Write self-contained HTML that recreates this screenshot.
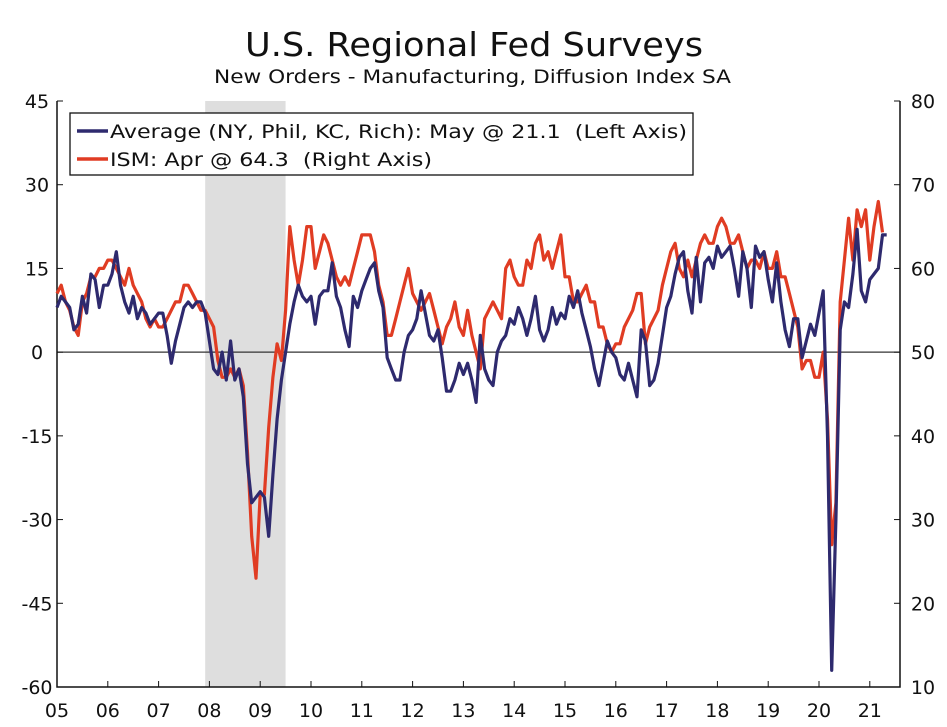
<!DOCTYPE html>
<html><head><meta charset="utf-8"><style>
body{margin:0;background:#fff;}
svg{display:block;font-family:"DejaVu Sans","Liberation Sans",sans-serif;}
</style></head><body>
<svg id="chart" width="947" height="727">
<text x="245" y="56" textLength="458" lengthAdjust="spacingAndGlyphs" font-size="33" fill="#111">U.S. Regional Fed Surveys</text>
<text x="214" y="83" textLength="517" lengthAdjust="spacingAndGlyphs" font-size="19" fill="#111">New Orders - Manufacturing, Diffusion Index SA</text>
<g id="g"></g>
</svg>
<script>
const years=["05","06","07","08","09","10","11","12","13","14","15","16","17","18","19","20","21"];
const leftTicks=[45,30,15,0,-15,-30,-45,-60];
const rightTicks=[80,70,60,50,40,30,20,10];
const recession=[2007.917,2009.5];
const avgSeries=[8,10,9,8,4,5,10,7,14,13,8,12,
12,14,18,12,9,7,10,6,8,7,5,6,
7,7,3,-2,2,5,8,9,8,9,9,7,
2,-3,-4,0,-5,2,-5,-3,-8,-20,-27,-26,
-25,-26,-33,-22,-12,-5,0,5,9,12,10,9,
10,5,10,11,11,16,10,8,4,1,10,8,
11,13,15,16,11,8,-1,-3,-5,-5,0,3,
4,6,11,7,3,2,4,-1,-7,-7,-5,-2,
-4,-2,-5,-9,3,-3,-5,-6,0,2,3,6,
5,8,6,3,6,10,4,2,4,8,5,7,
6,10,8,11,7,4,1,-3,-6,-2,2,0,
-1,-4,-5,-2,-5,-8,4,2,-6,-5,-2,3,
8,10,14,17,18,11,7,17,9,16,17,15,
19,17,18,19,15,10,18,15,8,19,17,18,
13,9,16,9,4,1,6,6,-1,2,5,3,
7,11,-15,-57,-30,4,9,8,14,22,11,9,
13,14,15,21,21];
const ismSeries=[57,58,56,55,53,52,56,57,59,59,60,60,
61,61,60,59,58,60,58,57,56,54,53,54,
53,53,54,55,56,56,58,58,57,56,55,55,
54,53,49,47,47,48,47,48,46,38,28,23,
33,33,41,47,51,49,55,65,61,58,61,65,
65,60,62,64,63,61,59,58,59,58,60,62,
64,64,64,62,58,56,52,52,54,56,58,60,
57,56,55,56,57,55,53,51,53,54,56,53,
52,55,52,50,48,54,55,56,55,54,60,61,
59,58,58,61,60,63,64,61,62,60,62,64,
59,59,56,56,57,58,56,56,53,53,51,50,
51,51,53,54,55,57,57,51,53,54,55,58,
60,62,63,60,59,61,59,61,63,64,63,63,
65,66,65,63,63,64,62,60,61,61,60,62,
60,60,62,59,59,57,55,53,48,49,49,47,
47,50,42,27,32,56,61,66,61,67,65,67,
61,65,68,64.3];
const X0=57,X1=900,Y0=101,Y1=687;
const xs=t=>X0+(t-2005)*50.8;
const yL=v=>Y0+(45-v)*(Y1-Y0)/105;
const yR=v=>Y0+(80-v)*(Y1-Y0)/70;
const NS="http://www.w3.org/2000/svg";
const g=document.getElementById('g');
function mk(tag,attrs,txt){const e=document.createElementNS(NS,tag);for(const k in attrs)e.setAttribute(k,attrs[k]);if(txt!==undefined)e.textContent=txt;g.appendChild(e);return e;}
let r=mk('rect',{x:xs(recession[0]),y:Y0,width:xs(recession[1])-xs(recession[0]),height:Y1-Y0,fill:"#dedede"});


let z=mk('line',{x1:X0,x2:X1,y1:yL(0),y2:yL(0),stroke:"#333","stroke-width":1.3});


let ax=mk('path',{d:`M${X0},${Y0}V${Y1}H${X1}V${Y0}`,fill:"none",stroke:"#111","stroke-width":1.5});


leftTicks.forEach(v=>{const y=yL(v);
mk('line',{x1:X0,x2:X0+6,y1:y,y2:y,stroke:"#111"});
const t=mk('text',{x:X0-20,y:y+7,"text-anchor":"middle","font-size":19,fill:"#111"},v);

});
rightTicks.forEach(v=>{const y=yR(v);
mk('line',{x1:X1-6,x2:X1,y1:y,y2:y,stroke:"#111"});
const t=mk('text',{x:X1+23,y:y+7,"text-anchor":"middle","font-size":19,fill:"#111"},v);

});
years.forEach((s,i)=>{const x=xs(2005+i);
mk('line',{x1:x,x2:x,y1:Y1,y2:Y1-6,stroke:"#111"});
const t=mk('text',{x:x,y:Y1+30,"text-anchor":"middle","font-size":19,fill:"#111"},s);

});
const path=(arr,fy)=>arr.map((v,i)=>(i?'L':'M')+xs(2005+i/12).toFixed(1)+','+fy(v).toFixed(1)).join('');
let p1=mk('path',{d:path(ismSeries,yR),fill:"none",stroke:"#e03c23","stroke-width":3.2,"stroke-linejoin":"round"});


let p2=mk('path',{d:path(avgSeries,yL),fill:"none",stroke:"#2e2a6e","stroke-width":3.2,"stroke-linejoin":"round"});


let lb=mk('rect',{x:70,y:113,width:623,height:62,fill:"#fff",stroke:"#111","stroke-width":1.3});


mk('line',{x1:77,x2:108,y1:131,y2:131,stroke:"#2e2a6e","stroke-width":3.5});
let l1=mk('text',{x:110,y:138,"font-size":19,fill:"#111",textLength:577,lengthAdjust:"spacingAndGlyphs"},"Average (NY, Phil, KC, Rich): May @ 21.1  (Left Axis)");


l1.style.whiteSpace='pre';
mk('line',{x1:77,x2:108,y1:159,y2:159,stroke:"#e03c23","stroke-width":3.5});
let l2=mk('text',{x:110,y:166,"font-size":19,fill:"#111",textLength:322,lengthAdjust:"spacingAndGlyphs"},"ISM: Apr @ 64.3  (Right Axis)");


l2.style.whiteSpace='pre';
</script>
</body></html>
